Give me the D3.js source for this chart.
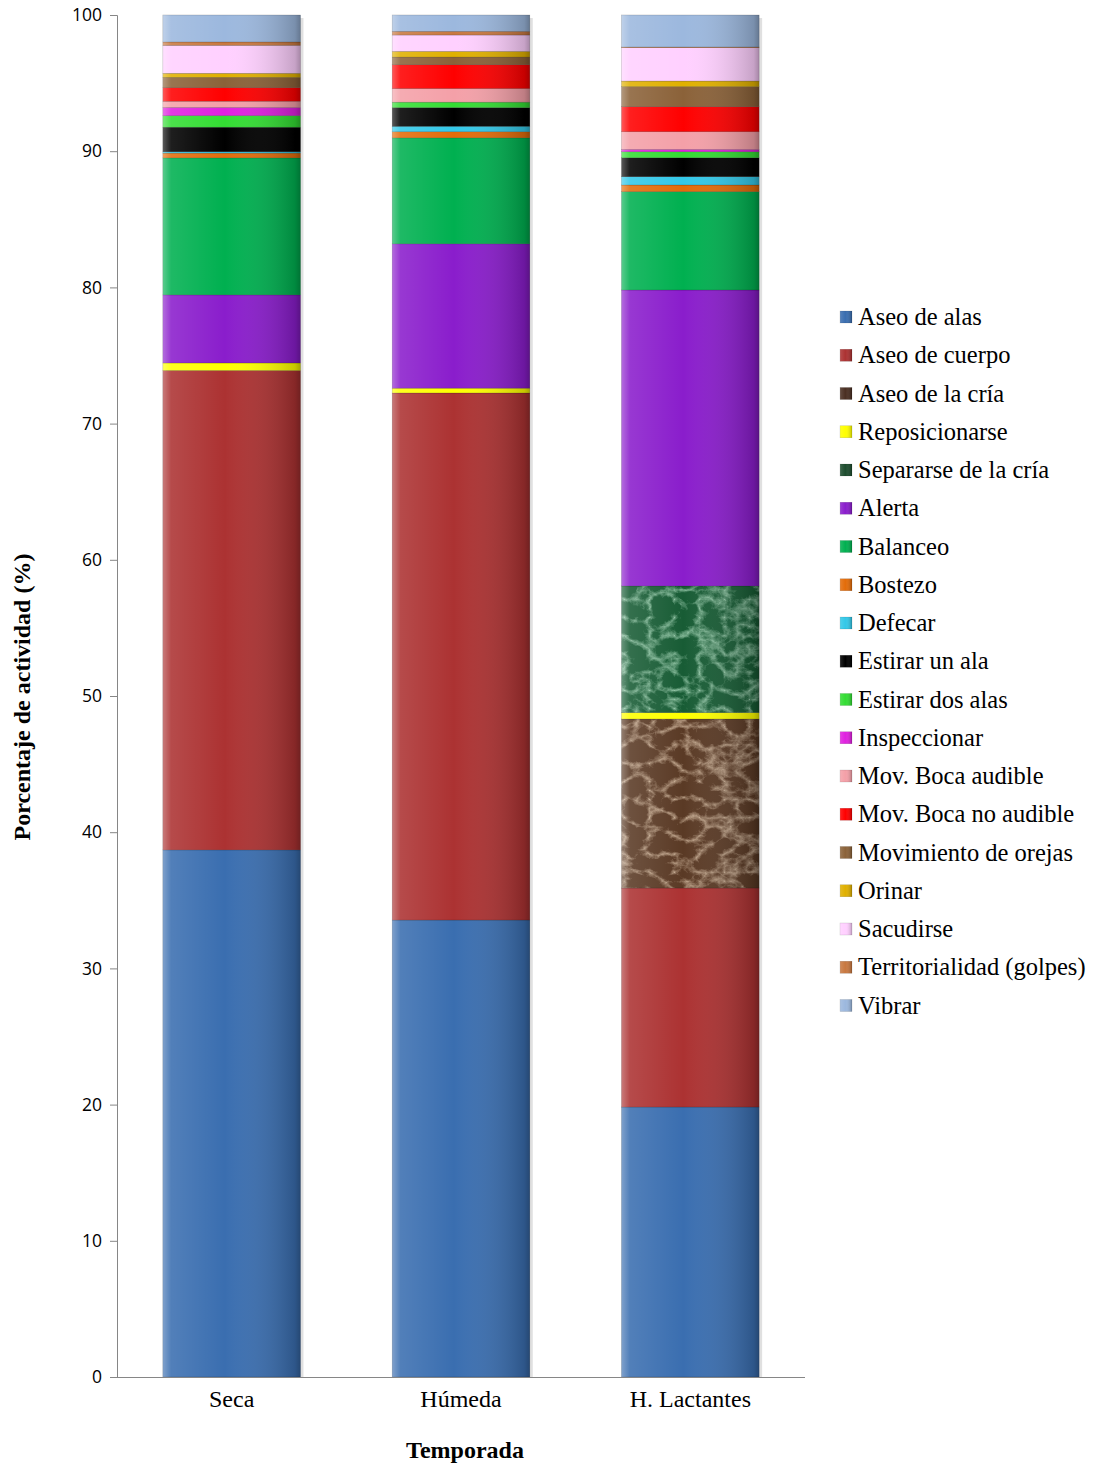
<!DOCTYPE html>
<html>
<head>
<meta charset="utf-8">
<script src="https://cdn.jsdelivr.net/npm/d3@7"></script>
<style>
  body { margin: 0; background: #fff; }
  svg { display: block; }
</style>
</head>
<body>
<script>
// temporadas (eje x)
var temporadas = ["Seca", "Húmeda", "H. Lactantes"];

// conductas, en orden de apilado (de abajo hacia arriba)
var conductas = ["Aseo de alas", "Aseo de cuerpo", "Aseo de la cría", "Reposicionarse",
    "Separarse de la cría", "Alerta", "Balanceo", "Bostezo", "Defecar", "Estirar un ala",
    "Estirar dos alas", "Inspeccionar", "Mov. Boca audible", "Mov. Boca no audible",
    "Movimiento de orejas", "Orinar", "Sacudirse", "Territorialidad (golpes)", "Vibrar"];

// porcentaje de actividad por temporada (mismo orden que conductas)
var seca = [38.7, 35.2, 0, 0.55, 0, 5.0, 10.06, 0.35, 0.1, 1.8, 0.85, 0.6, 0.46, 1.0, 0.75, 0.3, 2.05, 0.25, 1.98];
var humeda = [33.55, 38.7, 0, 0.35, 0, 10.6, 7.78, 0.45, 0.4, 1.37, 0.4, 0, 1.0, 1.75, 0.56, 0.42, 1.2, 0.27, 1.2];
var lactantes = [19.82, 16.08, 12.41, 0.47, 9.3, 21.73, 7.22, 0.49, 0.61, 1.39, 0.44, 0.17, 1.3, 1.84, 1.47, 0.41, 2.45, 0.05, 2.35];

var yTicks = [0, 10, 20, 30, 40, 50, 60, 70, 80, 90, 100];

var colores = ["#3a6eb0", "#ac3232", "url(#marbleBrown)", "#ffff00", "url(#marbleGreen)",
    "#8a1dcc", "#00b050", "#e36c09", "#33c8e8", "#000000", "#33dd33", "#e020e0",
    "#f4a0a8", "#ff0000", "#8b6239", "#e0b000", "#ffd0ff", "#c87840", "#9cb8de"];
var coloresLeyenda = colores.slice();
coloresLeyenda[2] = "#4a2f22";
coloresLeyenda[4] = "#1d4d2e";

var width = 1096, height = 1464;
var margin = {left: 117, top: 15, right: 291, bottom: 87};
var serif = "'Liberation Serif', 'Times New Roman', serif";

var svg = d3.select("body").append("svg")
    .attr("width", width)
    .attr("height", height);

var defs = svg.append("defs");

// brillo tipo bisel en cada segmento
var grad = defs.append("linearGradient").attr("id", "bevel")
    .attr("x1", "0").attr("x2", "1").attr("y1", "0").attr("y2", "0");
grad.append("stop").attr("offset", "0").attr("stop-color", "#fff").attr("stop-opacity", 0.35);
grad.append("stop").attr("offset", "0.06").attr("stop-color", "#fff").attr("stop-opacity", 0.12);
grad.append("stop").attr("offset", "0.45").attr("stop-color", "#fff").attr("stop-opacity", 0);
grad.append("stop").attr("offset", "0.96").attr("stop-color", "#000").attr("stop-opacity", 0.22);
grad.append("stop").attr("offset", "1").attr("stop-color", "#000").attr("stop-opacity", 0.35);

// texturas de marmol
function marble(id, base, matrix, seed) {
    var f = defs.append("filter").attr("id", id + "F")
        .attr("filterUnits", "userSpaceOnUse")
        .attr("x", 0).attr("y", 0).attr("width", width).attr("height", height);
    f.append("feTurbulence").attr("type", "turbulence")
        .attr("baseFrequency", "0.04 0.055").attr("numOctaves", 5).attr("seed", seed);
    f.append("feColorMatrix").attr("type", "matrix").attr("values", matrix);
    var p = defs.append("pattern").attr("id", id)
        .attr("patternUnits", "userSpaceOnUse")
        .attr("width", width).attr("height", height);
    p.append("rect").attr("width", width).attr("height", height).attr("fill", base);
    p.append("rect").attr("width", width).attr("height", height).attr("filter", "url(#" + id + "F)");
}
marble("marbleGreen", "#185c35",
    "0 0 0 0 0.42  0 0 0 0 0.72  0 0 0 0 0.52  -2.2 0 0 0 0.8", 3);
marble("marbleBrown", "#5a3a25",
    "0 0 0 0 0.72  0 0 0 0 0.55  0 0 0 0 0.4  -2.2 0 0 0 0.8", 7);

var x = d3.scaleBand()
    .domain(temporadas)
    .range([margin.left, width - margin.right])
    .paddingInner(0.4)
    .paddingOuter(0.2);

var y = d3.scaleLinear()
    .domain([0, 100])
    .range([height - margin.bottom, margin.top]);

var filas = temporadas.map(function(t, i) {
    var vals = [seca, humeda, lactantes][i];
    var row = {temporada: t};
    conductas.forEach(function(c, j) { row[c] = vals[j]; });
    return row;
});

var series = d3.stack().keys(conductas)(filas);

// sombra de las barras
svg.append("g").selectAll("rect")
    .data(filas)
    .enter().append("rect")
    .attr("x", function(d) { return x(d.temporada) + 3; })
    .attr("y", y(100) + 3)
    .attr("width", x.bandwidth())
    .attr("height", y(0) - y(100) - 3)
    .attr("fill", "#000")
    .attr("opacity", 0.12);

var capas = svg.append("g").selectAll("g")
    .data(series)
    .enter().append("g")
    .attr("fill", function(d, i) { return colores[i]; });

capas.selectAll("rect.seg")
    .data(function(d) { return d.filter(function(p) { return p[1] - p[0] > 0; }); })
    .enter().append("rect")
    .attr("class", "seg")
    .attr("x", function(d) { return x(d.data.temporada); })
    .attr("y", function(d) { return y(d[1]); })
    .attr("width", x.bandwidth())
    .attr("height", function(d) { return y(d[0]) - y(d[1]); })
    .attr("stroke", "rgba(0,0,0,0.25)")
    .attr("stroke-width", 0.6);

capas.selectAll("rect.shine")
    .data(function(d) { return d.filter(function(p) { return p[1] - p[0] > 0; }); })
    .enter().append("rect")
    .attr("class", "shine")
    .attr("x", function(d) { return x(d.data.temporada); })
    .attr("y", function(d) { return y(d[1]); })
    .attr("width", x.bandwidth())
    .attr("height", function(d) { return y(d[0]) - y(d[1]); })
    .attr("fill", "url(#bevel)");

// eje y
var yAxis = svg.append("g")
    .attr("transform", "translate(" + margin.left + ",0)")
    .call(d3.axisLeft(y).tickValues(yTicks).tickSize(7).tickPadding(8));
yAxis.select(".domain").attr("stroke", "#868686");
yAxis.selectAll(".tick line").attr("stroke", "#868686");
yAxis.selectAll("text")
    .attr("font-family", "'Open Sans', 'Liberation Sans', sans-serif")
    .attr("font-size", 17.5)
    .attr("fill", "#000");

// eje x
var xAxis = svg.append("g")
    .attr("transform", "translate(0," + y(0) + ")")
    .call(d3.axisBottom(x).tickSize(0).tickPadding(13));
xAxis.select(".domain").attr("stroke", "#868686")
    .attr("d", "M" + margin.left + ",0.5H" + (width - margin.right));
xAxis.selectAll("text")
    .attr("font-family", serif)
    .attr("font-size", 24)
    .attr("fill", "#000");

svg.append("text")
    .attr("x", (margin.left + width - margin.right) / 2 + 4)
    .attr("y", 1458)
    .attr("text-anchor", "middle")
    .attr("font-family", serif)
    .attr("font-weight", "bold")
    .attr("font-size", 24)
    .text("Temporada");

svg.append("text")
    .attr("transform", "translate(30," + 697 + ") rotate(-90)")
    .attr("text-anchor", "middle")
    .attr("font-family", serif)
    .attr("font-weight", "bold")
    .attr("font-size", 24)
    .text("Porcentaje de actividad (%)");

// leyenda
var leyenda = svg.append("g").selectAll("g")
    .data(conductas)
    .enter().append("g")
    .attr("transform", function(d, i) { return "translate(840," + (317 + i * 38.25) + ")"; });

leyenda.append("rect")
    .attr("x", 0).attr("y", -6)
    .attr("width", 12).attr("height", 12)
    .attr("fill", function(d, i) { return coloresLeyenda[i]; })
    .attr("stroke", "rgba(0,0,0,0.2)")
    .attr("stroke-width", 0.5);

leyenda.append("rect")
    .attr("x", 0).attr("y", -6)
    .attr("width", 12).attr("height", 12)
    .attr("fill", "url(#bevel)");

leyenda.append("text")
    .attr("x", 18)
    .attr("y", 8)
    .attr("font-family", serif)
    .attr("font-size", 24.5)
    .text(function(d) { return d; });
</script>
</body>
</html>
